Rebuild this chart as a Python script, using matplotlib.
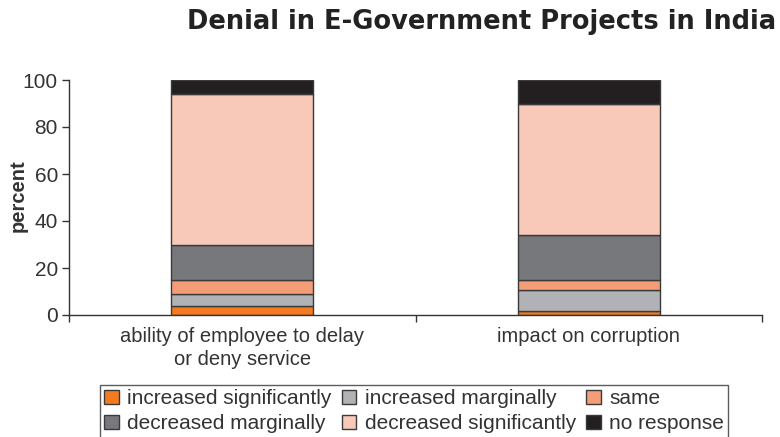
import matplotlib
matplotlib.use("Agg")
import matplotlib.pyplot as plt
from matplotlib.patches import Patch
import numpy as np

plt.rcParams['font.family'] = ['Liberation Sans', 'DejaVu Sans']

# data
categories = ["ability of employee to delay\nor deny service", "impact on corruption"]
series_names = ["increased significantly", "increased marginally", "same",
                "decreased marginally", "decreased significantly", "no response"]
increased_significantly = [4, 1.5]
increased_marginally = [5, 9]
same = [6, 4.5]
decreased_marginally = [15, 19]
decreased_significantly = [64, 56]
no_response = [6, 10]

series_values = [increased_significantly, increased_marginally, same,
                 decreased_marginally, decreased_significantly, no_response]
colors = ["#F47B20", "#B1B2B5", "#F49E78", "#77787B", "#F8C8B9", "#231F20"]
edge = "#3a3a3a"
text_color = "#333333"

fig = plt.figure(figsize=(7.8, 4.37), dpi=100)
ax = fig.add_axes([69 / 780, 1 - 315 / 437, (762 - 69) / 780, (315 - 80) / 437])

x = np.arange(len(categories))
bottom = np.zeros(len(categories))
for vals, col in zip(series_values, colors):
    ax.bar(x, vals, width=0.41, bottom=bottom, color=col, edgecolor=edge, linewidth=1.0)
    bottom += np.array(vals)

ax.set_xlim(-0.5, 1.5)
ax.set_ylim(0, 100)
ax.set_yticks([0, 20, 40, 60, 80, 100])
ax.tick_params(axis='y', labelsize=15, colors=text_color, length=5, width=1, pad=3)
ax.set_xticks([-0.5, 0.5, 1.5])
ax.set_xticklabels([])
ax.tick_params(axis='x', length=5, width=1, color=text_color)
for i, lab in enumerate(categories):
    ax.text(i, -5.3, lab, ha='center', va='top', fontsize=14.5, color=text_color,
            linespacing=1.22)

for s in ['top', 'right']:
    ax.spines[s].set_visible(False)
for s in ['left', 'bottom']:
    ax.spines[s].set_color(text_color)
    ax.spines[s].set_linewidth(1)

fig.text(18 / 780, 1 - 196 / 437, "percent", rotation=90, ha='center', va='center',
         fontsize=14.5, fontweight='bold', color=text_color)

fig.text(776 / 780, 1 - 22 / 437, "Denial in E-Government Projects in India",
         ha='right', va='center', fontsize=18.5, fontweight='bold', color="#222222",
         family=['DejaVu Sans'])

handles = [Patch(facecolor=c, edgecolor=edge, linewidth=1) for c in colors]
order = [0, 3, 1, 4, 2, 5]
leg = fig.legend([handles[i] for i in order], [series_names[i] for i in order],
                 loc='upper left', bbox_to_anchor=(100 / 780, 1 - 385 / 437),
                 ncol=3, fontsize=15, frameon=True, fancybox=False,
                 handlelength=0.7, handleheight=0.7, handletextpad=0.4,
                 columnspacing=0.5, labelspacing=0.3, borderpad=0.2,
                 borderaxespad=0)
leg.get_frame().set_edgecolor(text_color)
leg.get_frame().set_linewidth(1)
for t in leg.get_texts():
    t.set_color(text_color)

fig.savefig("out.png", dpi=100)
